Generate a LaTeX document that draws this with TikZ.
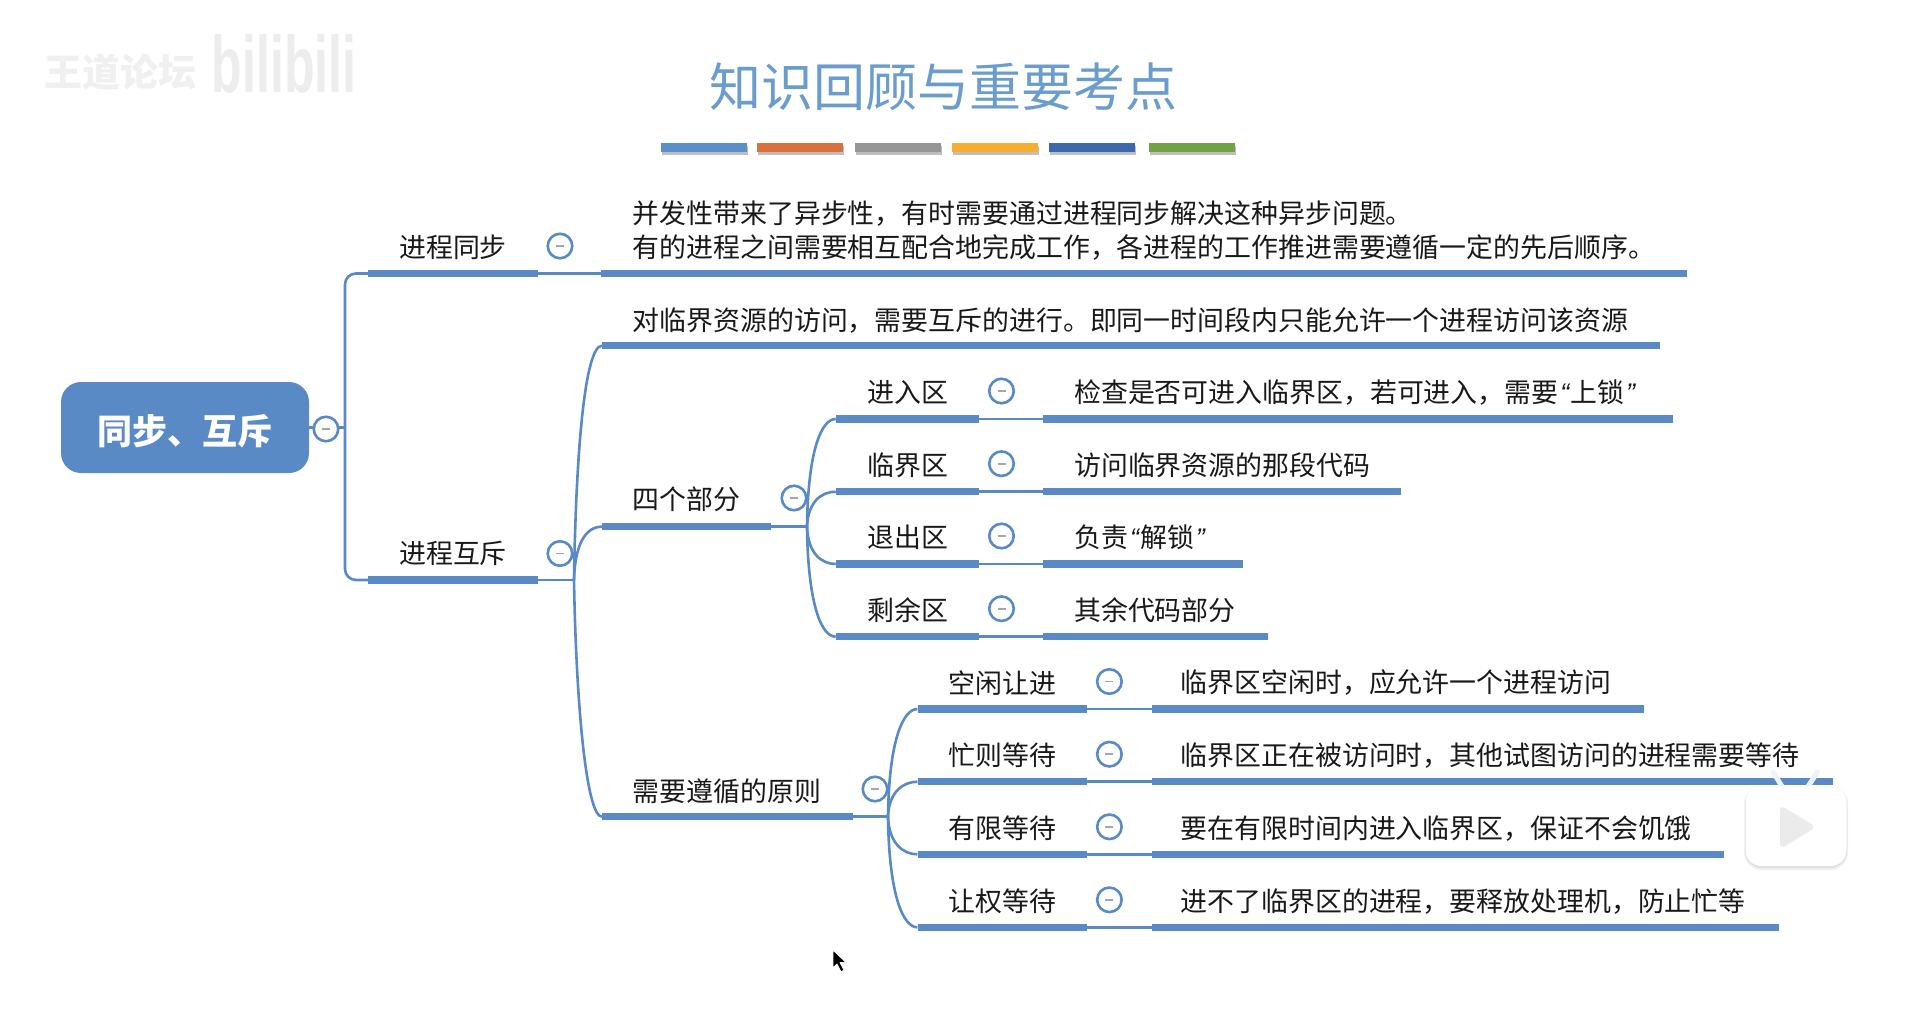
\documentclass[tikz,border=0pt]{standalone}
\usepackage{fontspec}
\setmainfont{Noto Sans CJK SC}
\newfontfamily\quotefont{Liberation Sans}
\newfontfamily\logofont{Liberation Sans}
\usetikzlibrary{shadows}

\definecolor{mapblue}{HTML}{5A8AC6}
\definecolor{titleblue}{HTML}{6A9CCE}
\newcommand{\qo}{{\quotefont\itshape\hspace{2pt}“\hspace{1.5pt}}}
\newcommand{\qc}{{\quotefont\itshape\hspace{1.5pt}”\hspace{2pt}}}

\tikzset{
    bar/.style={fill=mapblue, inner sep=0pt, minimum height=7.5pt, anchor=west},
    link/.style={draw=mapblue, line width=2.6pt},
    dot/.style={circle, draw=mapblue, fill=white, line width=2.6pt, inner sep=0pt, minimum size=24.5pt,
        path picture={\draw[gray!70, line width=1.8pt] (path picture bounding box.center) ++(-4,0) -- ++(8,0);}},
    word/.style={anchor=west, inner sep=0pt, text=black!90, font=\fontsize{26.9}{34}\selectfont},
    colorbar/.style={inner sep=0pt, minimum width=86pt, minimum height=9pt,
        drop shadow={shadow xshift=1pt, shadow yshift=-3pt, opacity=.25, fill=black}},
}

\begin{document}
\begin{tikzpicture}[x=1pt,y=-1pt]
    \useasboundingbox (0,0) rectangle (1920,1010);
    \fill[white] (0,0) rectangle (1920,1010);

    % draw watermark
    \node[text=black!6, font=\bfseries\fontsize{38}{38}\selectfont] (markName) at (120,72) {王道论坛};
    \node[text=black!7, yscale=1.6, font=\logofont\bfseries\fontsize{50}{50}\selectfont] (markLogo) at (284,64) {bilibili};

    % draw title and color bars
    \node[text=titleblue, font=\fontsize{52}{52}\selectfont] (title) at (943,87) {知识回顾与重要考点};
    \foreach \id/\x/\col in {a/704/5B8FC9,b/799.5/D9713C,c/898/969696,d/994.5/F5AE2F,e/1091.5/3E68AE,f/1191.5/6FA346} {
        \definecolor{barcol}{HTML}{\col}
        \node[colorbar, fill=barcol] (bar\id) at (\x,147.5) {};
    }

    % draw root
    \node[fill=mapblue, rounded corners=20pt, minimum width=248pt, minimum height=91pt, inner sep=0pt] (root) at (185,427.5) {};
    \node[text=white, font=\bfseries\fontsize{35}{35}\selectfont] (rootWord) at (185,431) {同步、互斥};
    \coordinate (hubRoot) at (345,427.5);

    % draw first level
    \node[bar, minimum width=170pt] (barSync) at (368,273.5) {};
    \node[bar, minimum width=170pt] (barMutex) at (368,580) {};
    \node[word] (wordSync) at (399,247.5) {进程同步};
    \node[word] (wordMutex) at (399,553.5) {进程互斥};
    \draw[link] (root.east) -- (hubRoot);
    \draw[link, rounded corners=11pt] (barSync.west) -| (hubRoot) |- (barMutex.west);
    \node[dot] (dotRoot) at (326,429) {};
    \node[dot] (dotSync) at (560,246) {};
    \node[dot] (dotMutex) at (560,553.5) {};

    % draw sync text
    \node[bar, minimum width=1086pt] (barSyncText) at (601,273.5) {};
    \node[word, align=left] (wordSyncText) at (632.5,230.5) {并发性带来了异步性，有时需要通过进程同步解决这种异步问题。\\有的进程之间需要相互配合地完成工作，各进程的工作推进需要遵循一定的先后顺序。};
    \draw[link] (barSync.east) -- (barSyncText.west);

    % draw second level
    \coordinate (hubMutex) at (574,580);
    \node[bar, minimum width=1058pt] (barRes) at (602,345.7) {};
    \node[bar, minimum width=169pt] (barParts) at (602,526.7) {};
    \node[bar, minimum width=251pt] (barRules) at (602,816.7) {};
    \node[word] (wordRes) at (632.5,321) {对临界资源的访问，需要互斥的进行。即同一时间段内只能允许一个进程访问该资源};
    \node[word] (wordParts) at (632.5,499.5) {四个部分};
    \node[word] (wordRules) at (632.5,791) {需要遵循的原则};
    \draw[link] (barMutex.east) -- (hubMutex);
    \draw[link] (hubMutex) .. controls +(2,-130) and +(-17,0) .. (barRes.west);
    \draw[link] (hubMutex) .. controls +(1,-35) and +(-17,0) .. (barParts.west);
    \draw[link] (hubMutex) .. controls +(2,120) and +(-16,0) .. (barRules.west);
    \node[dot] (dotParts) at (794,498) {};
    \node[dot] (dotRules) at (875,789) {};

    % draw four parts
    \coordinate (hubParts) at (807,526.7);
    \draw[link] (barParts.east) -- (hubParts);
    \foreach \id/\y/\xend/\lab/\txt in {
        Enter/419/1673/进入区/检查是否可进入临界区，若可进入，需要\qo 上锁\qc,
        Crit/491.7/1401/临界区/访问临界资源的那段代码,
        Exit/564/1243/退出区/负责\qo 解锁\qc,
        Rest/636.7/1267.5/剩余区/其余代码部分} {
        \node[bar, minimum width=143.3pt] (bar\id) at (835.7,\y) {};
        \node[bar, minimum width={(\xend-1043)*1pt}] (barText\id) at (1043,\y) {};
        \node[word] (word\id) at (867.4,\y-26.5) {\lab};
        \node[word] (wordText\id) at (1074,\y-26.5) {\txt};
        \node[dot] (dot\id) at (1001.5,\y-28) {};
        \draw[link] (bar\id.east) -- (barText\id.west);
        \draw[link] (hubParts) .. controls +(1,{0.72*(\y-526.7)}) and +(-14,0) .. (bar\id.west);
    }

    % draw rules
    \coordinate (hubRules) at (888,816.7);
    \draw[link] (barRules.east) -- (hubRules);
    \foreach \id/\y/\xend/\lab/\txt in {
        Idle/709/1644/空闲让进/临界区空闲时，应允许一个进程访问,
        Busy/781.7/1832.7/忙则等待/临界区正在被访问时，其他试图访问的进程需要等待,
        Bound/854.3/1724/有限等待/要在有限时间内进入临界区，保证不会饥饿,
        Yield/927.3/1778.5/让权等待/进不了临界区的进程，要释放处理机，防止忙等} {
        \node[bar, minimum width=169.6pt] (bar\id) at (917.4,\y) {};
        \node[bar, minimum width={(\xend-1151.8)*1pt}] (barText\id) at (1151.8,\y) {};
        \node[word] (word\id) at (948.7,\y-26) {\lab};
        \node[word] (wordText\id) at (1180.5,\y-26) {\txt};
        \node[dot] (dot\id) at (1109.4,\y-27.5) {};
        \draw[link] (bar\id.east) -- (barText\id.west);
        \draw[link] (hubRules) .. controls +(1,{0.72*(\y-816.7)}) and +(-14,0) .. (bar\id.west);
    }

    % draw play badge
    \draw[white!90!mapblue, line width=5pt, line cap=round] (1773,772) -- (1783,788);
    \draw[white!90!mapblue, line width=5pt, line cap=round] (1817.5,772) -- (1807,788);
    \fill[black!6, rounded corners=18pt] (1744,786) rectangle (1848,870);
    \fill[black!12, rounded corners=17pt] (1745,787) rectangle (1847,868);
    \fill[white, rounded corners=16pt] (1745.5,786) rectangle (1846.5,866);
    \fill[black!8, rounded corners=5pt, line join=round] (1780,805) -- (1816,827) -- (1780,849) -- cycle;

    % draw mouse pointer
    \filldraw[fill=black, draw=white, line width=.8pt, line join=round]
        (833,950) -- (833,968) -- (837,964) -- (841,972) -- (844,970) -- (840,962.5) -- (846,962.5) -- cycle;
\end{tikzpicture}
\end{document}
